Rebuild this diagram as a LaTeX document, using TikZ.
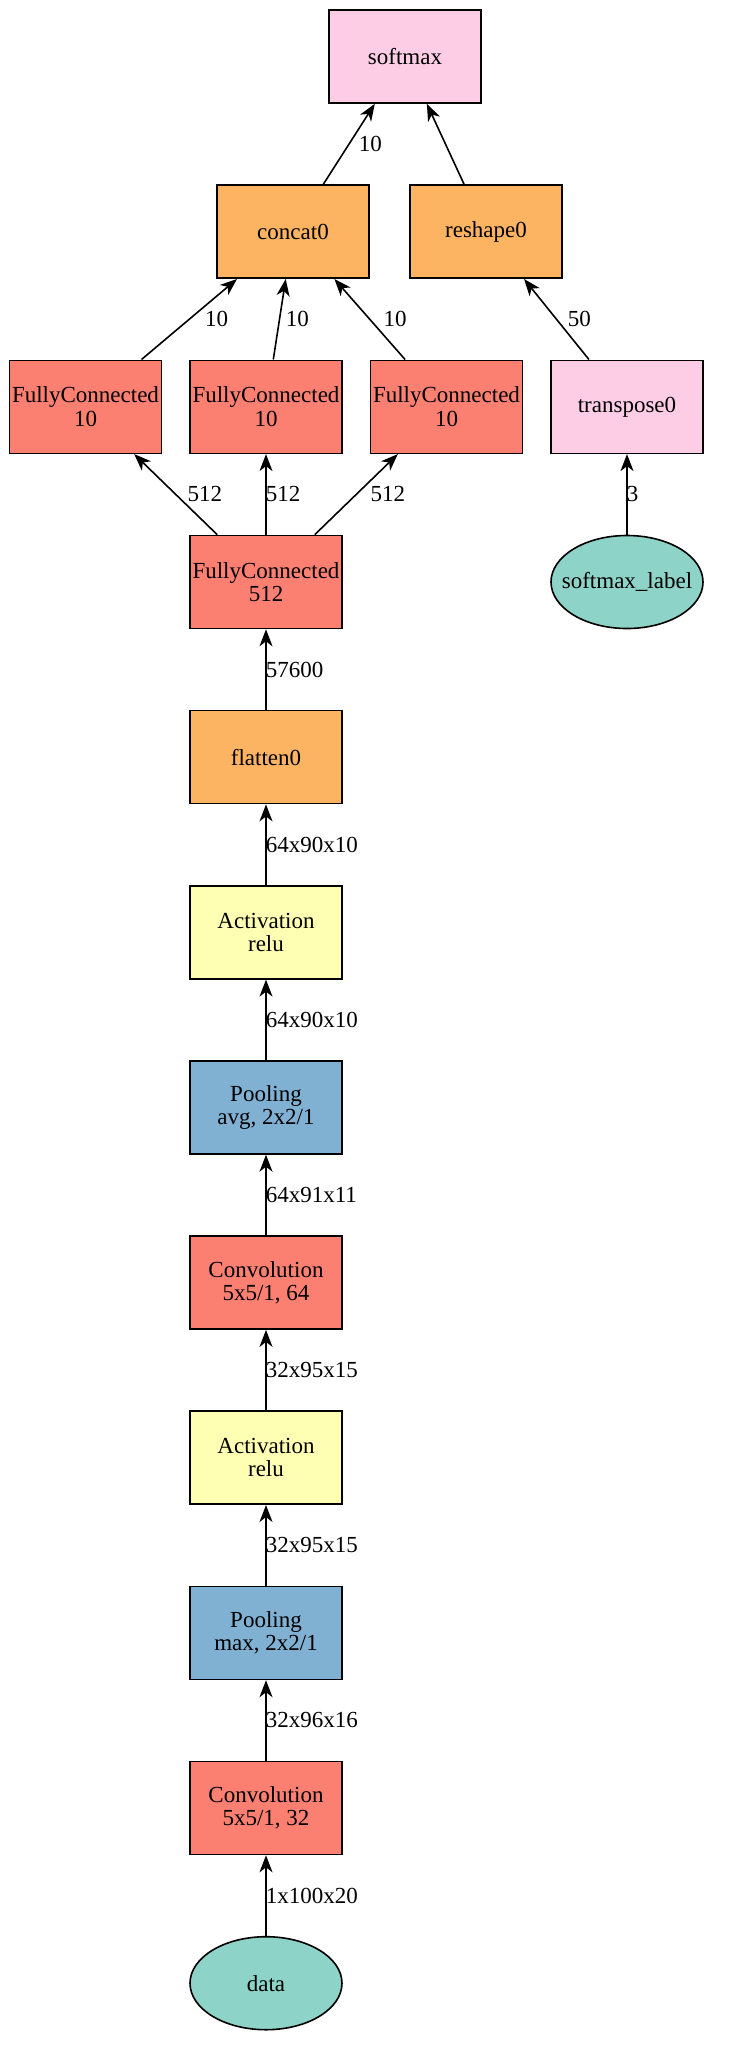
\documentclass[tikz,border=0pt]{standalone}
\usepackage{fontspec}
\setmainfont{Liberation Serif}
\usetikzlibrary{shapes.geometric,arrows.meta}
\definecolor{cdata}{HTML}{8DD3C7}
\definecolor{cfc}{HTML}{FB8072}
\definecolor{cact}{HTML}{FFFFB3}
\definecolor{cpool}{HTML}{80B1D3}
\definecolor{corange}{HTML}{FDB462}
\definecolor{cpink}{HTML}{FCCDE5}
\tikzset{
  nodebox/.style={draw=black, line width=1.6pt, rectangle, minimum width=152pt, minimum height=93pt, inner sep=0pt, align=center, font=\fontsize{23}{23.5}\selectfont},
  nodeell/.style={nodebox, ellipse, inner xsep=-22pt},
  edge/.style={draw=black, line width=1.6pt, >={Stealth[length=17pt,width=13pt,inset=5pt]}, <-},
  lbl/.style={anchor=west, inner sep=0pt, font=\fontsize{23}{23.5}\selectfont},
}
\begin{document}
\begin{tikzpicture}[x=1pt,y=-1pt]
\useasboundingbox (0,0) rectangle (742,2048);
\node[nodebox, fill=cpink] (softmax) at (405,56.5) {softmax};
\node[nodebox, fill=corange] (concat) at (293,231.7) {concat0};
\node[nodebox, fill=corange] (reshape) at (486,231.7) {reshape0};
\node[nodebox, fill=cfc] (fc1) at (85.5,406.8) {FullyConnected\\10};
\node[nodebox, fill=cfc] (fc2) at (266,406.8) {FullyConnected\\10};
\node[nodebox, fill=cfc] (fc3) at (446.5,406.8) {FullyConnected\\10};
\node[nodebox, fill=cpink] (transpose) at (627,406.8) {transpose0};
\node[nodebox, fill=cfc] (fc512) at (266,582) {FullyConnected\\512};
\node[nodeell, fill=cdata] (label) at (627,582) {softmax\_label};
\node[nodebox, fill=corange] (flatten) at (266,757.1) {flatten0};
\node[nodebox, fill=cact] (act2) at (266,932.3) {Activation\\relu};
\node[nodebox, fill=cpool] (pool2) at (266,1107.4) {Pooling\\avg, 2x2/1};
\node[nodebox, fill=cfc] (conv2) at (266,1282.6) {Convolution\\5x5/1, 64};
\node[nodebox, fill=cact] (act1) at (266,1457.7) {Activation\\relu};
\node[nodebox, fill=cpool] (pool1) at (266,1632.9) {Pooling\\max, 2x2/1};
\node[nodebox, fill=cfc] (conv1) at (266,1808) {Convolution\\5x5/1, 32};
\node[nodeell, fill=cdata] (data) at (266,1983.2) {data};

\draw[edge] (softmax) -- node[lbl, xshift=9pt] {10} (concat);
\draw[edge] (softmax) -- (reshape);
\draw[edge] (concat) -- node[lbl, xshift=15pt] {10} (fc1);
\draw[edge] (concat) -- node[lbl, xshift=5.5pt] {10} (fc2);
\draw[edge] (concat) -- node[lbl, xshift=13pt] {10} (fc3);
\draw[edge] (reshape) -- node[lbl, xshift=10.5pt] {50} (transpose);
\draw[edge] (fc1) -- node[lbl, xshift=11pt] {512} (fc512);
\draw[edge] (fc2) -- node[lbl, xshift=-1pt] {512} (fc512);
\draw[edge] (fc3) -- node[lbl, xshift=13.5pt] {512} (fc512);
\draw[edge] (transpose) -- node[lbl, xshift=-1pt] {3} (label);
\draw[edge] (fc512) -- node[lbl, xshift=-1pt] {57600} (flatten);
\draw[edge] (flatten) -- node[lbl, xshift=-1pt] {64x90x10} (act2);
\draw[edge] (act2) -- node[lbl, xshift=-1pt] {64x90x10} (pool2);
\draw[edge] (pool2) -- node[lbl, xshift=-1pt] {64x91x11} (conv2);
\draw[edge] (conv2) -- node[lbl, xshift=-1pt] {32x95x15} (act1);
\draw[edge] (act1) -- node[lbl, xshift=-1pt] {32x95x15} (pool1);
\draw[edge] (pool1) -- node[lbl, xshift=-1pt] {32x96x16} (conv1);
\draw[edge] (conv1) -- node[lbl, xshift=-1pt] {1x100x20} (data);
\end{tikzpicture}
\end{document}
